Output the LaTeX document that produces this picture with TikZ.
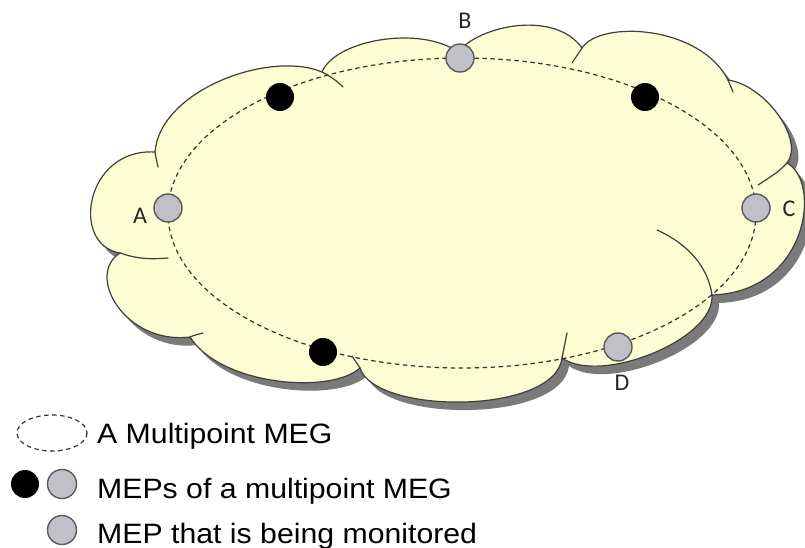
\documentclass[tikz,border=0pt]{standalone}
\usepackage{fontspec}
\setmainfont{Liberation Sans}
\newfontfamily\lblfont{Carlito}
\definecolor{cloudfill}{HTML}{FDFDD3}
\definecolor{cloudedge}{HTML}{3F3F3F}
\definecolor{shadowgray}{HTML}{7A7A7A}
\definecolor{mepfill}{HTML}{C0C0C8}
\definecolor{mepedge}{HTML}{5A5A5A}
\tikzset{line width=1pt,
  cloudline/.style={draw=cloudedge,line width=1.2pt,line cap=round},
  megline/.style={draw=black!80,dash pattern=on 4.5pt off 3.5pt,line width=1.2pt},
  mepblack/.style={circle,fill=black,minimum size=28pt,inner sep=0pt},
  mepgray/.style={circle,fill=mepfill,draw=mepedge,line width=1.4pt,minimum size=28pt,inner sep=0pt},
  ptlabel/.style={font=\lblfont\fontsize{24}{28}\selectfont,text=black!85,inner sep=0pt},
  legendtext/.style={anchor=base west,font=\fontsize{28}{32}\selectfont,inner sep=0pt}}
% cloud outline, pixel coordinates (y down)
\def\cloudpath{(155,152) .. controls (160,90) and (270,50) .. (322,72)
  .. controls (335,40) and (420,25) .. (458,52)
  .. controls (480,25) and (555,10) .. (582,48)
  .. controls (600,20) and (700,25) .. (728,80)
  .. controls (765,85) and (805,140) .. (787,163)
  .. controls (822,182) and (808,292) .. (712,295)
  .. controls (715,340) and (600,385) .. (562,358)
  .. controls (555,415) and (375,415) .. (360,368)
  .. controls (330,395) and (220,385) .. (190,337)
  .. controls (125,345) and (85,275) .. (120,253)
  .. controls (70,245) and (85,148) .. (155,152) -- cycle}
\newcommand{\stretchtext}[1]{\scalebox{1.08}[1]{#1}}

\begin{document}
\begin{tikzpicture}[x=1pt,y=-1pt]
\useasboundingbox (0,0) rectangle (805,548);
\fill[shadowgray,xshift=7pt,yshift=-8pt] \cloudpath;
\fill[cloudfill] \cloudpath;
\draw[cloudline] \cloudpath;
% lobe tails
\draw[cloudline] (322,72) .. controls (330,76) and (337,81) .. (343,87);
\draw[cloudline] (155,152) .. controls (156,158) .. (158,167);
\draw[cloudline] (120,253) .. controls (140,260) and (155,259) .. (168,258);
\draw[cloudline] (190,337) .. controls (195,335) .. (203,333);
\draw[cloudline] (360,368) -- (352,356);
\draw[cloudline] (562,358) .. controls (564,348) .. (567,333);
\draw[cloudline] (712,295) .. controls (708,268) and (690,245) .. (657,230);
\draw[cloudline] (787,163) .. controls (778,172) .. (758,185);
\draw[cloudline] (582,48) -- (572,63);
\draw[cloudline] (728,80) -- (733,92);
% multipoint MEG
\draw[megline] (462,213) ellipse [x radius=294,y radius=155];
\node[mepgray] (mepA) at (168,208) {};
\node[mepgray] (mepB) at (460,58) {};
\node[mepgray] (mepC) at (756,208) {};
\node[mepgray] (mepD) at (618,347) {};
\node[mepblack] (mepX1) at (280,97) {};
\node[mepblack] (mepX2) at (645,97) {};
\node[mepblack] (mepX3) at (323,352) {};
\node[ptlabel] (lblA) at (140,216) {A};
\node[ptlabel] (lblB) at (465,21) {B};
\node[ptlabel] (lblC) at (789,209) {C};
\node[ptlabel] (lblD) at (622,383) {D};
% legend
\draw[megline] (52,433) ellipse [x radius=35,y radius=18];
\node[mepblack] (legBlack) at (25,484) {};
\node[mepgray,minimum size=29pt] (legGray) at (62,484) {};
\node[mepgray,minimum size=29pt] (legMon) at (62,530) {};
\node[legendtext] (txtMEG) at (97,443) {\stretchtext{A Multipoint MEG}};
\node[legendtext] (txtMEPs) at (97,498) {\stretchtext{MEPs of a multipoint MEG}};
\node[legendtext] (txtMon) at (97,543) {\stretchtext{MEP that is being monitored}};
\end{tikzpicture}
\end{document}
